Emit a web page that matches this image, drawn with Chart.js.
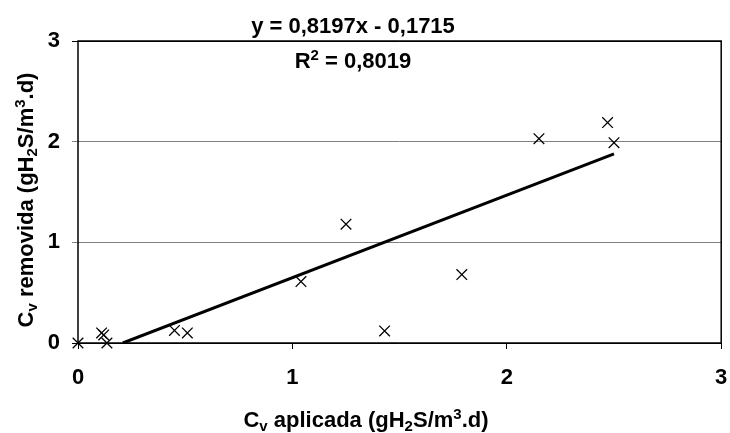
<!DOCTYPE html>
<html>
<head>
<meta charset="utf-8">
<script src="https://cdn.jsdelivr.net/npm/chart.js@4"></script>
<style>
  html, body { margin: 0; padding: 0; background: #fff; }
  #wrap { width: 730px; height: 433px; }
</style>
</head>
<body>
<div id="wrap"><canvas id="scatter"></canvas></div>
<script>
// measured points
var cvAplicada  = [0, 0.11, 0.12, 0.135, 0.45, 0.51, 1.04, 1.25, 1.43, 1.79, 2.15, 2.47, 2.50];
var cvRemovida  = [0, 0.10, 0.08, 0.00, 0.125, 0.10, 0.61, 1.18, 0.12, 0.68, 2.03, 2.19, 1.99];
// trend line ends (y = 0,8197x - 0,1715)
var trendX = [0.209, 2.50];
var trendY = [0, 1.878];
var xTicks = [0, 1, 2, 3];
var yTicks = [0, 1, 2, 3];

var FONT = 'bold 22px "Liberation Sans", Arial, sans-serif';
var SMALL = 'bold 15px "Liberation Sans", Arial, sans-serif';

// parts: [text, 'n' | 'sub' | 'sup']
function richWidth(ctx, parts) {
    var w = 0;
    parts.forEach(function (p) {
        ctx.font = p[1] == 'n' ? FONT : SMALL;
        w += ctx.measureText(p[0]).width;
    });
    return w;
}
function drawRich(ctx, parts, cx, baseY) {
    var x = cx - richWidth(ctx, parts) / 2;
    ctx.textAlign = 'left';
    ctx.textBaseline = 'alphabetic';
    ctx.fillStyle = '#000';
    parts.forEach(function (p) {
        var dy = 0;
        if (p[1] == 'sub') dy = 4;
        if (p[1] == 'sup') dy = -8;
        ctx.font = p[1] == 'n' ? FONT : SMALL;
        ctx.fillText(p[0], x, baseY + dy);
        x += ctx.measureText(p[0]).width;
    });
}

var xTitle = [['C', 'n'], ['v', 'sub'], [' aplicada (gH', 'n'], ['2', 'sub'], ['S/m', 'n'], ['3', 'sup'], ['.d)', 'n']];
var yTitle = [['C', 'n'], ['v', 'sub'], [' removida (gH', 'n'], ['2', 'sub'], ['S/m', 'n'], ['3', 'sup'], ['.d)', 'n']];
var eqText = [['y = 0,8197x - 0,1715', 'n']];
var r2Text = [['R', 'n'], ['2', 'sup'], [' = 0,8019', 'n']];

var decor = {
    id: 'decor',
    afterDraw: function (chart) {
        var ctx = chart.ctx, a = chart.chartArea;
        ctx.save();
        ctx.strokeStyle = '#000';
        ctx.lineWidth = 1.5;
        ctx.strokeRect(a.left, a.top, a.right - a.left, a.bottom - a.top);
        drawRich(ctx, xTitle, 366, 427);
        drawRich(ctx, eqText, 353, 33);
        drawRich(ctx, r2Text, 353, 68);
        ctx.translate(33, 200);
        ctx.rotate(-Math.PI / 2);
        drawRich(ctx, yTitle, 0, 0);
        ctx.restore();
    }
};

var ctx = document.getElementById('scatter').getContext('2d');
var chart = new Chart(ctx, {
    type: 'scatter',
    data: {
        datasets: [{
            label: 'dados',
            data: cvAplicada.map(function (v, i) { return { x: v, y: cvRemovida[i] }; }),
            pointStyle: 'crossRot',
            pointRadius: 7.5,
            pointHoverRadius: 7.5,
            borderColor: '#000',
            backgroundColor: '#000',
            borderWidth: 1.3,
            clip: false
        }, {
            label: 'tendencia',
            type: 'line',
            data: trendX.map(function (v, i) { return { x: v, y: trendY[i] }; }),
            borderColor: '#000',
            borderWidth: 3,
            pointRadius: 0,
            fill: false
        }]
    },
    options: {
        responsive: true,
        maintainAspectRatio: false,
        animation: false,
        layout: { padding: { left: 0, top: 41, right: 4, bottom: 0 } },
        plugins: { legend: { display: false }, tooltip: { enabled: false } },
        scales: {
            x: {
                type: 'linear', min: 0, max: 3,
                afterBuildTicks: function (s) { s.ticks = xTicks.map(function (v) { return { value: v }; }); },
                afterFit: function (s) { s.height = 90; s.paddingLeft = 0; s.paddingRight = 0; },
                grid: { drawOnChartArea: false, drawTicks: true, tickLength: 6, color: '#000', lineWidth: 1 },
                border: { display: false },
                ticks: { color: '#000', padding: 16, font: { family: '"Liberation Sans", Arial', size: 22, weight: 'bold' } }
            },
            y: {
                type: 'linear', min: 0, max: 3,
                afterBuildTicks: function (s) { s.ticks = yTicks.map(function (v) { return { value: v }; }); },
                afterFit: function (s) { s.width = 78; s.paddingTop = 0; s.paddingBottom = 0; },
                grid: {
                    drawTicks: true, tickLength: 6, lineWidth: 1,
                    color: function (c) { return (c.tick && (c.tick.value == 0 || c.tick.value == 3)) ? '#000' : '#808080'; }
                },
                border: { display: false },
                ticks: { color: '#000', padding: 12, font: { family: '"Liberation Sans", Arial', size: 22, weight: 'bold' } }
            }
        }
    },
    plugins: [decor]
});
</script>
</body>
</html>
